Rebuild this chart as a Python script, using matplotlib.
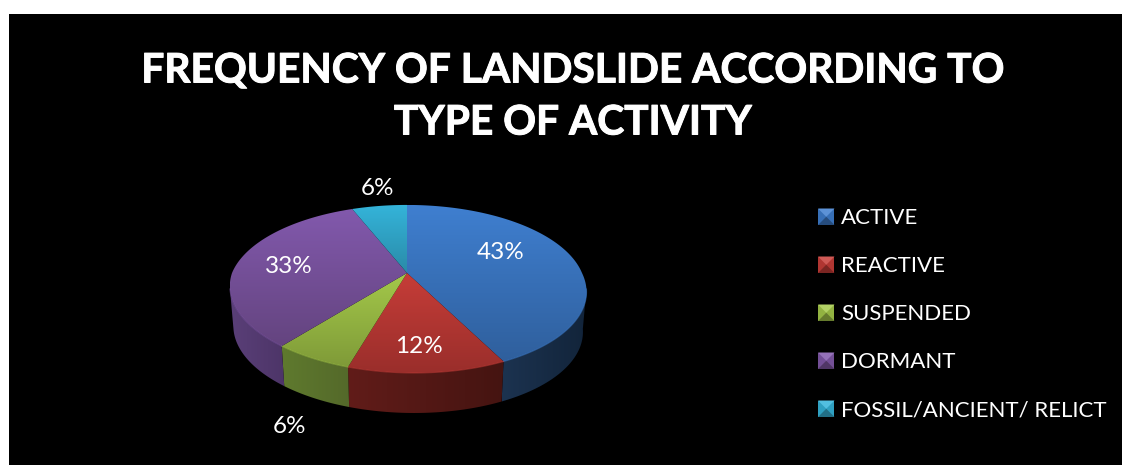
import numpy as np
import matplotlib
matplotlib.use('Agg')
import matplotlib.pyplot as plt
import matplotlib.patheffects as pe
from matplotlib.patches import Polygon, Rectangle
from matplotlib.colors import LinearSegmentedColormap, to_rgb

plt.rcParams['font.family'] = ['Lato', 'DejaVu Sans']

categories = ['ACTIVE', 'REACTIVE', 'SUSPENDED', 'DORMANT', 'FOSSIL/ANCIENT/ RELICT']
percent = [43, 12, 6, 33, 6]
titleLines = 'FREQUENCY OF LANDSLIDE ACCORDING TO\nTYPE OF ACTIVITY'

# top face gradient (upper colour, lower colour) for each slice
topUpper = ['#3f7fd0', '#c63d38', '#a4c94a', '#8259ad', '#34b4da']
topLower = ['#2f5f9c', '#9a2e2b', '#7f9a38', '#64447f', '#2a8ba8']
sideLeft = ['#1c3350', '#611c19', '#5f7a2e', '#5a3f78', '#1f6a80']
sideRight = ['#12243a', '#451411', '#54692a', '#4d3568', '#1f6a80']

# where each percentage label sits
labelX = [501, 419, 290, 289, 378]
labelY = [252, 346, 426, 266, 188]

cx, cy = 407, 273
radius = 175
squashY = 81
persp = 0.19
shear = 6
depth = 40
lowerScale = 0.98


def project(theta, r=1.0):
    # theta runs clockwise from twelve o'clock, near side gets bigger
    x = r * np.sin(theta)
    v = -r * np.cos(theta)
    w = 1 - persp * v
    return cx + radius * x / w + shear * np.clip(v / w, 0, None), cy + squashY * v / w


def lower(px, py):
    return cx + (px - cx) * lowerScale, py + depth


def gradientFill(ax, pts, c0, c1, horizontal=False):
    poly = Polygon(pts, closed=True, facecolor='none', edgecolor='none')
    ax.add_patch(poly)
    cmap = LinearSegmentedColormap.from_list('g', [c0, c1])
    xs, ys = pts[:, 0], pts[:, 1]
    grad = np.linspace(0, 1, 256)
    grad = grad.reshape(1, -1) if horizontal else grad.reshape(-1, 1)
    im = ax.imshow(grad, cmap=cmap, aspect='auto', interpolation='bilinear',
                   extent=[xs.min(), xs.max(), ys.max(), ys.min()], zorder=poly.get_zorder())
    im.set_clip_path(poly)
    return im


fig = plt.figure(figsize=(11.22, 4.65), dpi=100, facecolor='white')
ax = fig.add_axes([0, 0, 1, 1])
ax.axis('off')
ax.add_patch(Rectangle((9, 14), 1113, 451, facecolor='black', edgecolor='none', zorder=0))

# slice boundaries from the percentages
edges = np.cumsum([0] + percent) / sum(percent) * 2 * np.pi

# side wall first, visible between the widest points of the rim
wallStart = np.arccos(-persp)
wallEnd = 2 * np.pi - wallStart
for i in range(len(percent)):
    a = max(edges[i], wallStart)
    b = min(edges[i + 1], wallEnd)
    if b <= a:
        continue
    t = np.linspace(a, b, 80)
    px, py = project(t)
    qx, qy = lower(px, py)
    pts = np.column_stack([np.r_[px, qx[::-1]], np.r_[py, qy[::-1]]])
    gradientFill(ax, pts, sideLeft[i], sideRight[i], horizontal=True).set_zorder(2)

# top face
for i in range(len(percent)):
    t = np.linspace(edges[i], edges[i + 1], 120)
    px, py = project(t)
    pts = np.column_stack([np.r_[cx, px], np.r_[cy, py]])
    gradientFill(ax, pts, topUpper[i], topLower[i]).set_zorder(3)
    # faint lit rim along the front edge
    if edges[i + 1] > wallStart and edges[i] < wallEnd:
        t2 = np.linspace(max(edges[i], wallStart), min(edges[i + 1], wallEnd), 80)
        rx, ry = project(t2)
        ax.plot(rx, ry, color=topUpper[i], lw=0.8, alpha=0.5, zorder=4)

for i in range(len(percent)):
    ax.text(labelX[i], labelY[i], '%d%%' % percent[i], color='white', fontsize=17.5,
            ha='center', va='center', zorder=6)

ax.text(573, 97, titleLines, color='white', fontsize=29.3, fontweight='bold', ha='center',
        va='center', linespacing=1.5, zorder=6,
        path_effects=[pe.withStroke(linewidth=0.7, foreground='white')])

# legend with bevelled square keys
keyX, keyY, keySize = 818, 208.5, 16.5
for i, name in enumerate(categories):
    y0 = keyY + i * 48
    x1, y1 = keyX + keySize, y0 + keySize
    mx, my = keyX + keySize / 2, y0 + keySize / 2
    upper = np.array(to_rgb(topUpper[i]))
    low = np.array(to_rgb(topLower[i]))
    mid = tuple((upper + low) / 2)
    ax.add_patch(Rectangle((keyX, y0), keySize, keySize, facecolor=mid, edgecolor='none', zorder=5))
    ax.fill([keyX, x1, mx], [y0, y0, my], color=tuple(upper * 0.85 + 0.15), lw=0, zorder=5)
    ax.fill([keyX, x1, mx], [y1, y1, my], color=tuple(low * 0.8), lw=0, zorder=5)
    ax.text(841, y0 + 9.5, name, color='white', fontsize=16, ha='left', va='center', zorder=6)

ax.set_xlim(0, 1122)
ax.set_ylim(465, 0)
fig.savefig('out.png', dpi=100, facecolor='white')
